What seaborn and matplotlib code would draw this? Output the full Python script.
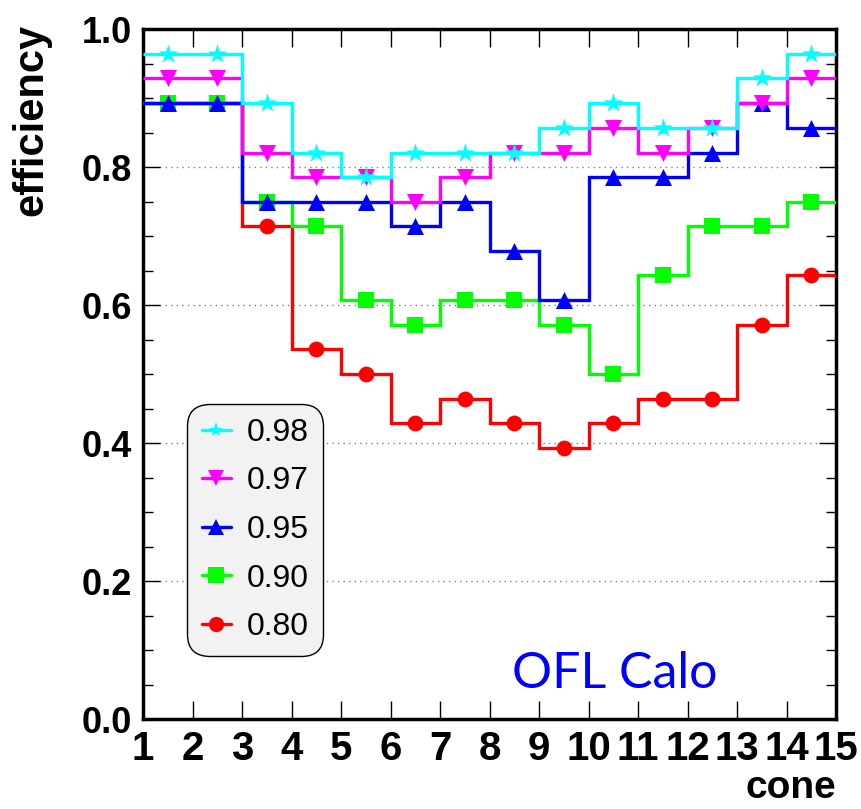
# Efficiency vs cone size for several thresholds (ROOT-style step histograms)
import matplotlib
matplotlib.use("Agg")
import matplotlib.pyplot as plt
from matplotlib.lines import Line2D
from matplotlib.ticker import MultipleLocator, FormatStrFormatter
import seaborn as sns
import numpy as np

# Data
cone_edges = [1, 2, 3, 4, 5, 6, 7, 8, 9, 10, 11, 12, 13, 14, 15]
eff_098 = [0.964, 0.964, 0.893, 0.821, 0.786, 0.821, 0.821, 0.821, 0.857, 0.893, 0.857, 0.857, 0.929, 0.964]
eff_097 = [0.929, 0.929, 0.821, 0.786, 0.786, 0.750, 0.786, 0.821, 0.821, 0.857, 0.821, 0.857, 0.893, 0.929]
eff_095 = [0.893, 0.893, 0.750, 0.750, 0.750, 0.714, 0.750, 0.679, 0.607, 0.786, 0.786, 0.821, 0.893, 0.857]
eff_090 = [0.893, 0.893, 0.750, 0.714, 0.607, 0.571, 0.607, 0.607, 0.571, 0.500, 0.643, 0.714, 0.714, 0.750]
eff_080 = [0.893, 0.893, 0.714, 0.536, 0.500, 0.429, 0.464, 0.429, 0.393, 0.429, 0.464, 0.464, 0.571, 0.643]
labels = ["0.98", "0.97", "0.95", "0.90", "0.80"]

sns.set_style("ticks")
plt.rcParams['font.family'] = ['Liberation Sans', 'DejaVu Sans']
plt.rcParams['text.color'] = 'black'
plt.rcParams['xtick.color'] = 'black'
plt.rcParams['ytick.color'] = 'black'
plt.rcParams['axes.labelcolor'] = 'black'

fig = plt.figure(figsize=(8.62, 8.09), dpi=100)
ax = fig.add_axes([0.166, 0.111, 0.804, 0.853])

centers = (np.array(cone_edges[:-1]) + np.array(cone_edges[1:])) / 2

# drawn bottom-up like the original: red first, cyan last
series = [
    (eff_080, "#ff0000", "o", 130, "0.80"),
    (eff_090, "#00ff00", "s", 120, "0.90"),
    (eff_095, "#0000ff", "^", 150, "0.95"),
    (eff_097, "#ff00ff", "v", 150, "0.97"),
    (eff_098, "#00ffff", "*", 210, "0.98"),
]

handles = {}
z = 3
for vals, col, mk, size, lab in series:
    ax.stairs(vals, cone_edges, color=col, linewidth=2.4, baseline=None, zorder=z)
    sns.scatterplot(x=centers, y=vals, color=col, marker=mk, s=size,
                    linewidth=0, ax=ax, zorder=z + 1, legend=False)
    handles[lab] = Line2D([0], [0], color=col, marker=mk, markersize=11,
                          linewidth=2.4, markeredgewidth=0)
    z += 2

ax.set_xlim(1, 15)
ax.set_ylim(0, 1.0)
ax.set_xticks(cone_edges)
ax.yaxis.set_major_locator(MultipleLocator(0.2))
ax.yaxis.set_minor_locator(MultipleLocator(0.05))
ax.yaxis.set_major_formatter(FormatStrFormatter('%.1f'))
for t in ax.get_xticklabels():
    t.set_fontsize(29)
    t.set_fontweight('bold')
for t in ax.get_yticklabels():
    t.set_fontsize(26)
    t.set_fontweight('bold')

ax.tick_params(axis='x', which='major', direction='in', length=13, width=1,
               top=True, pad=8)
ax.tick_params(axis='y', which='major', direction='in', length=12, width=1,
               right=True, pad=8)
ax.tick_params(axis='y', which='minor', direction='in', length=7, width=1,
               right=True)

ax.yaxis.grid(True, linestyle=(0, (1, 3)), color='gray', linewidth=1)
for sp in ax.spines.values():
    sp.set_linewidth(2.5)
    sp.set_color('black')

fig.text(0.036, 0.970, "efficiency", rotation=90, fontsize=30,
         fontweight='bold', ha='center', va='top')
fig.text(0.970, 0.014, "cone", fontsize=28, fontweight='bold',
         ha='right', va='baseline')

ax.text(0.68, 0.045, "OFL Calo", transform=ax.transAxes, fontsize=36,
        color='#0000ff', ha='center', va='baseline', family=['Lato', 'DejaVu Sans'])

leg = ax.legend([handles[l] for l in labels], labels, loc='lower left',
                bbox_to_anchor=(0.064, 0.091), borderaxespad=0, fontsize=23,
                frameon=True, fancybox=True, facecolor='#f2f2f2',
                edgecolor='black', framealpha=1, handlelength=0.9,
                handletextpad=0.5, labelspacing=0.58, borderpad=0.45)
leg.get_frame().set_linewidth(1.0)
leg.get_frame().set_boxstyle('round', pad=0, rounding_size=0.7)
leg.set_zorder(20)

fig.savefig("out.png", dpi=100)
